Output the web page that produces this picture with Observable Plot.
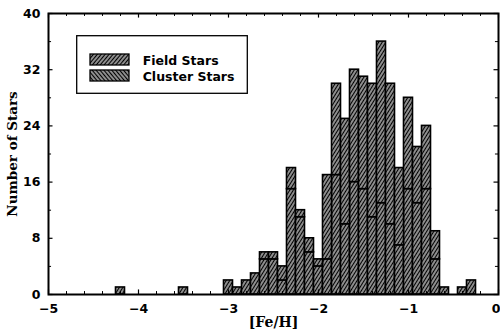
<!DOCTYPE html>
<html>
<head>
<meta charset="utf-8">
<script src="https://cdn.jsdelivr.net/npm/d3@7"></script>
<script src="https://cdn.jsdelivr.net/npm/@observablehq/plot@0.6"></script>
<style>
  html, body { margin: 0; padding: 0; background: white; }
  #chart { position: relative; width: 500px; height: 333px; overflow: hidden; }
</style>
</head>
<body>
<div id="chart"></div>
<script>
// [Fe/H] bin centres (bin width 0.1)
const feBins = [-4.2, -3.5, -3.0, -2.9, -2.8, -2.7, -2.6, -2.5, -2.4, -2.3, -2.2, -2.1, -2.0,
  -1.9, -1.8, -1.7, -1.6, -1.5, -1.4, -1.3, -1.2, -1.1, -1.0, -0.9, -0.8, -0.7, -0.6, -0.4, -0.3];
// lower segment of each bar
const fieldCounts = [1, 1, 2, 1, 2, 3, 5, 5, 2, 15, 11, 6, 4,
  5, 17, 10, 16, 15, 11, 13, 10, 7, 15, 13, 15, 5, 1, 1, 2];
// upper segment of each bar
const clusterCounts = [0, 0, 0, 0, 0, 0, 1, 1, 2, 3, 1, 2, 1,
  12, 13, 15, 16, 16, 19, 23, 20, 11, 13, 8, 9, 4, 0, 0, 0];

const xMajor = [-5, -4, -3, -2, -1, 0];
const xMinor = d3.range(-50, 1, 2).map(d => d / 10).filter(d => !xMajor.includes(d));
const yMajor = [0, 8, 16, 24, 32, 40];
const yMinor = [4, 12, 20, 28, 36];
const legendLabels = ["Field Stars", "Cluster Stars"];

const binHalf = 0.05;
const rows = feBins.map((fe, i) => ({fe, field: fieldCounts[i], cluster: clusterCounts[i]}));

const fmt = d => d === 0 ? "0" : "\u2212" + Math.abs(d);

const chart = Plot.plot({
  width: 500,
  height: 333,
  marginLeft: 48,
  marginRight: 2,
  marginTop: 13,
  marginBottom: 39,
  x: {domain: [-5, 0]},
  y: {domain: [0, 40]},
  style: {fontFamily: "DejaVu Sans", fontWeight: "bold", fontSize: "12.5px", background: "white", color: "black"},
  marks: [
    Plot.rectY(rows, {x1: d => d.fe - binHalf, x2: d => d.fe + binHalf, y1: 0, y2: d => d.field,
      fill: "url(#hatchBar)", stroke: "black", strokeWidth: 1.6}),
    Plot.rectY(rows.filter(d => d.cluster > 0), {x1: d => d.fe - binHalf, x2: d => d.fe + binHalf,
      y1: d => d.field, y2: d => d.field + d.cluster,
      fill: "url(#hatchBar)", stroke: "black", strokeWidth: 1.6}),
    // ticks (inward)
    Plot.ruleX(xMinor, {x: d => d, y1: 0, y2: 0.42, stroke: "black", strokeWidth: 1}),
    Plot.ruleX(xMajor, {x: d => d, y1: 0, y2: 0.65, stroke: "black", strokeWidth: 1.2}),
    Plot.ruleX(xMinor, {x: d => d, y1: 40, y2: 39.58, stroke: "black", strokeWidth: 1}),
    Plot.ruleX(xMajor, {x: d => d, y1: 40, y2: 39.35, stroke: "black", strokeWidth: 1.2}),
    Plot.ruleY(yMinor, {y: d => d, x1: -5, x2: -4.966, stroke: "black", strokeWidth: 1}),
    Plot.ruleY(yMajor, {y: d => d, x1: -5, x2: -4.95, stroke: "black", strokeWidth: 1.2}),
    Plot.ruleY(yMinor, {y: d => d, x1: 0, x2: -0.034, stroke: "black", strokeWidth: 1}),
    Plot.ruleY(yMajor, {y: d => d, x1: 0, x2: -0.05, stroke: "black", strokeWidth: 1.2}),
    Plot.frame({stroke: "black", strokeWidth: 2}),
    Plot.axisX(xMajor.filter(d => d < 0), {tickSize: 0, tickPadding: 10, tickFormat: fmt, label: null}),
    Plot.axisX(xMajor.filter(d => d === 0), {tickSize: 0, tickPadding: 10, tickFormat: fmt, label: null,
      textAnchor: "end", dx: 2}),
    Plot.axisY(yMajor, {tickSize: 0, tickPadding: 8, label: null}),
    Plot.text(["Number of Stars"], {text: d => d, frameAnchor: "left", dx: -35.8, rotate: -90,
      textAnchor: "middle", lineAnchor: "middle",
      fontFamily: "DejaVu Serif", fontWeight: "bold", fontSize: 13.5}),
    Plot.text(["[Fe/H]"], {text: d => d, frameAnchor: "bottom", dy: 28.2,
      textAnchor: "middle", lineAnchor: "middle",
      fontFamily: "DejaVu Serif", fontWeight: "bold", fontSize: 14})
  ]
});

// hatch patterns
const svg = d3.select(chart);
const defs = svg.insert("defs", ":first-child");
function hatch(id, angle) {
  const p = defs.append("pattern").attr("id", id).attr("patternUnits", "userSpaceOnUse")
    .attr("width", 3).attr("height", 8).attr("patternTransform", `rotate(${angle})`);
  p.append("rect").attr("width", 3).attr("height", 8).attr("fill", "white");
  p.append("line").attr("x1", 1.5).attr("x2", 1.5).attr("y1", -1).attr("y2", 9)
    .attr("stroke", "black").attr("stroke-width", 1.9);
}
hatch("hatchBar", 32);
hatch("hatchField", 40);
hatch("hatchCluster", -40);

// legend box
const lg = svg.append("g").attr("font-family", "DejaVu Sans").attr("font-weight", "bold")
  .attr("font-size", 12.5).attr("text-anchor", "start");
lg.append("rect").attr("x", 76.7).attr("y", 35.7).attr("width", 170.6).attr("height", 57.6)
  .attr("fill", "white").attr("stroke", "black").attr("stroke-width", 1.3);
legendLabels.forEach((lab, i) => {
  const y = 54 + i * 16;
  lg.append("rect").attr("x", 90).attr("y", y).attr("width", 39).attr("height", 11)
    .attr("fill", i === 0 ? "url(#hatchField)" : "url(#hatchCluster)")
    .attr("stroke", "black").attr("stroke-width", 1.3);
  lg.append("text").attr("x", 142.7).attr("y", y + 10.8).attr("text-anchor", "start")
    .attr("fill", "black").text(lab);
});

document.getElementById("chart").appendChild(chart);
</script>
</body>
</html>
